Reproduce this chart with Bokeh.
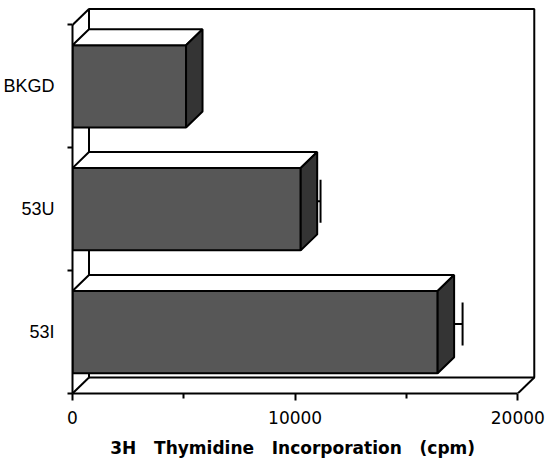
from bokeh.plotting import figure
from bokeh.models import Range1d, FixedTicker
from bokeh.embed import file_html
from bokeh.resources import INLINE

# ---- data ----
categories = ["BKGD", "53U", "53I"]
values = [5100, 10250, 16400]
errors = [0, 520, 750]
positions = [2.5, 1.5, 0.5]
x_ticks = [0, 10000, 20000]
x_minor_ticks = [5000, 15000]
x_label = "3H \u00a0\u00a0Thymidine \u00a0\u00a0Incorporation \u00a0\u00a0(cpm)\u00a0\u00a0\u00a0\u00a0"

# ---- geometry of the 3D frame ----
XMAX = 20000
NCAT = 3
DX = 740      # depth offset along value axis
DY = 0.13     # depth offset along category axis
H = 0.67      # bar thickness
CAP = 0.175   # half length of error cap

p = figure(width=545, height=460, output_backend="svg", toolbar_location=None,
           x_range=Range1d(0, XMAX + DX + 100), y_range=Range1d(0, NCAT + DY + 0.02),
           min_border_left=72, min_border_right=9, min_border_top=6, min_border_bottom=67)
p.outline_line_color = None
p.grid.visible = False
p.background_fill_color = "white"
p.border_fill_color = "white"

# frame: back wall, left wall and floor edges
fx = [[DX, XMAX + DX, XMAX + DX, DX, DX],
      [0, DX], [XMAX, XMAX + DX], [0, DX]]
fy = [[DY, DY, NCAT + DY, NCAT + DY, DY],
      [0, DY], [0, DY], [NCAT, NCAT + DY]]
p.multi_line(xs=fx, ys=fy, line_color="black", line_width=2)

# error bars at mid depth (drawn before bars so the stub hides behind the side)
ex0 = [v + DX / 2 for v in values]
ex1 = [v + e + DX / 2 for v, e in zip(values, errors)]
ey = [y + DY / 2 for y in positions]
p.segment(x0=ex0, y0=ey, x1=ex1, y1=ey, line_color="black", line_width=2)
p.segment(x0=ex1, y0=[y - CAP for y in ey], x1=ex1, y1=[y + CAP for y in ey],
          line_color="black", line_width=2)

# front faces
p.hbar(y=positions, left=0, right=values, height=H, fill_color="#575757",
       line_color="black", line_width=2)

# top and side faces
txs, tys, sxs, sys_ = [], [], [], []
for v, y in zip(values, positions):
    top = y + H / 2
    bot = y - H / 2
    txs.append([0, v, v + DX, DX])
    tys.append([top, top, top + DY, top + DY])
    sxs.append([v, v + DX, v + DX, v])
    sys_.append([bot, bot + DY, top + DY, top])
p.patches(xs=txs, ys=tys, fill_color="white", line_color="black", line_width=2)
p.patches(xs=sxs, ys=sys_, fill_color="#343434", line_color="black", line_width=2)

# axes
xa = p.xaxis[0]
xa.ticker = FixedTicker(ticks=x_ticks, minor_ticks=x_minor_ticks)
xa.bounds = (0, XMAX)
xa.axis_line_width = 2
xa.major_tick_line_width = 2
xa.minor_tick_line_width = 2
xa.major_tick_in = 0
xa.major_tick_out = 7
xa.minor_tick_in = 0
xa.minor_tick_out = 5
xa.major_label_standoff = 10
xa.major_label_text_font = "DejaVu Sans"
xa.major_label_text_font_size = "17px"
xa.major_label_text_color = "black"
xa.axis_label = x_label
xa.axis_label_standoff = 11
xa.axis_label_text_font = "DejaVu Sans"
xa.axis_label_text_font_style = "bold"
xa.axis_label_text_font_size = "17px"
xa.axis_label_text_color = "black"

ya = p.yaxis[0]
ya.ticker = FixedTicker(ticks=positions, minor_ticks=[0, 1, 2, 3])
ya.bounds = (0, NCAT)
ya.major_label_overrides = {pos: cat for pos, cat in zip(positions, categories)}
ya.axis_line_width = 2
ya.major_tick_in = 0
ya.major_tick_out = 0
ya.minor_tick_line_width = 2
ya.minor_tick_in = 0
ya.minor_tick_out = 5
ya.major_label_standoff = 13
ya.major_label_text_font = "Liberation Sans"
ya.major_label_text_font_size = "18px"
ya.major_label_text_color = "black"

open("out.html", "w").write(file_html(p, INLINE))
